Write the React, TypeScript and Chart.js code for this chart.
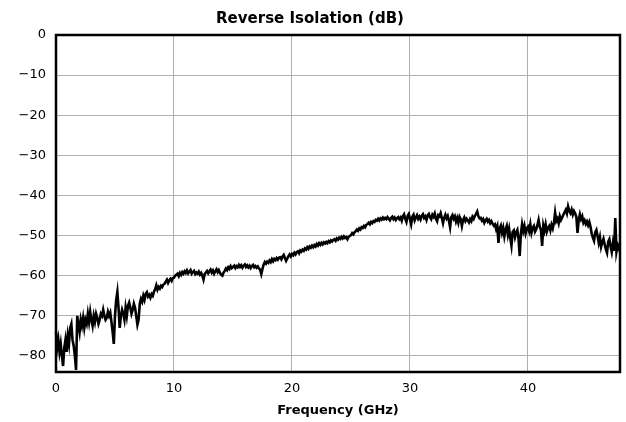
import React, { useEffect, useRef } from "react";
import { Chart, registerables } from "chart.js";

Chart.register(...registerables);

const TITLE = "Reverse Isolation (dB)";
const X_LABEL = "Frequency (GHz)";
const FREQ_START_GHZ = 0;
const FREQ_STEP_GHZ = 0.1;
const X_MIN = 0;
const X_MAX = 47.8;
const Y_MIN = -84;
const Y_MAX = 0;
const X_TICKS = [0, 10, 20, 30, 40];
const Y_TICKS = [0, -10, -20, -30, -40, -50, -60, -70, -80];

// Reverse isolation in dB, one value every 0.1 GHz from 0 GHz
const ISOLATION_DB = [
  -74, -78, -76, -79, -77, -80, -82.5, -78, -76, -79,
  -75, -77, -73, -72, -76, -77.5, -80, -83.5, -70, -72,
  -74, -71, -72.5, -70.5, -73, -71, -72, -69.5, -71.5, -69,
  -71, -72.5, -70, -71.5, -69.5, -70.5, -72, -71, -69.5, -70,
  -68.5, -70, -71, -70.5, -69, -70, -69.2, -71.5, -74, -77,
  -70, -66, -64, -68, -73, -70, -68.5, -69.5, -71, -68,
  -70, -67.5, -66.7, -68, -69.5, -68.5, -67, -68, -70, -72.2,
  -71, -67, -65.8, -66.5, -65, -66, -64.5, -64.1, -65.2, -64.8,
  -65.5, -64.6, -65, -64, -63.4, -62.4, -63.5, -62.8, -63.2, -62.5,
  -62.8, -62.2, -62, -61.5, -61, -61.8, -61.2, -60.8, -61.3, -60.6,
  -60.5, -60, -59.8, -59.5, -60.1, -59.3, -59.8, -59.1, -59.5, -58.9,
  -59.3, -58.7, -59.4, -59, -58.6, -59.5, -59.1, -58.8, -59.6, -59.2,
  -59.5, -59, -59.7, -59.3, -60, -61, -59.6, -59.2, -58.8, -59.4,
  -58.9, -58.5, -59.2, -58.7, -59.5, -58.9, -58.4, -59.1, -58.6, -59.3,
  -59.8, -60, -59.2, -58.8, -58.2, -58.6, -57.9, -58.3, -57.6, -58.1,
  -57.8, -57.5, -58.1, -57.6, -57.9, -57.3, -57.8, -57.4, -58, -57.5,
  -57.2, -57.8, -57.4, -57.9, -57.5, -58.1, -57.6, -57.3, -57.9, -57.6,
  -58, -57.7, -58.2, -58.5, -59.6, -58.3, -57.2, -56.6, -57, -56.5,
  -56.8, -56.2, -56.6, -55.9, -56.4, -55.8, -56.1, -55.6, -56, -55.5,
  -55.4, -55.9, -55.2, -54.8, -55.6, -56.3, -55.7, -55.1, -54.7, -55.2,
  -54.6, -54.9, -54.3, -54.7, -54.1, -53.9, -54.4, -53.7, -54, -53.5,
  -53.8, -53.2, -53.5, -52.9, -53.3, -52.7, -53, -52.5, -52.9, -52.4,
  -52.7, -52.1, -52.5, -51.9, -52.3, -51.8, -52.2, -51.7, -52, -51.6,
  -51.9, -51.4, -51.7, -51.2, -51.5, -51.1, -50.9, -51.3, -50.7, -51,
  -50.5, -50.8, -50.3, -50.7, -50.2, -50.6, -50.4, -50.9, -50.3, -50.1,
  -49.9, -49.4, -49.7, -49.2, -48.9, -48.5, -48.8, -48.2, -48.5, -47.9,
  -48.1, -47.6, -47.9, -47.3, -47.1, -46.8, -47.2, -46.6, -46.9, -46.4,
  -46.6, -46.1, -46.3, -45.8, -46.2, -45.7, -46, -45.5, -45.9, -45.6,
  -45.9, -45.4, -45.8, -46.2, -45.6, -45.3, -45.9, -45.5, -46.1, -45.7,
  -45.4, -45.9, -45.5, -46.3, -45.2, -44.7, -45.8, -46.6, -45.1, -44.6,
  -45.9, -47.2, -45.3, -44.8, -46.2, -45.5, -44.9, -45.8, -45.3, -46,
  -45.1, -44.7, -45.6, -45.2, -46.1, -45, -44.6, -45.4, -45.9, -44.8,
  -45.3, -44.5, -45.8, -46.4, -44.9, -45.2, -44.4, -45.6, -46.9, -45.5,
  -44.8, -45.7, -45.1, -46.3, -47.9, -45.4, -44.9, -45.8, -45.2, -46.5,
  -45.6, -46.8, -45.3, -45.9, -47.6, -46.1, -45.5, -46.4, -45.8, -46.2,
  -46.7, -45.9, -46.4, -45.3, -45.8, -45.1, -44.6, -44, -45.2, -45.7,
  -45.6, -46.3, -45.9, -46.8, -46.2, -45.8, -46.5, -46.1, -46.9, -46.4,
  -47, -47.5, -47.2, -48.4, -47.6, -51.8, -48.2, -47.5, -49.3, -48.1,
  -50.2, -48.5, -47.6, -49.8, -48.3, -50.6, -52.5, -49.1, -48.7, -50.4,
  -49.2, -48.6, -50.8, -55.1, -49.5, -47.2, -48.9, -47.6, -49.4, -48.2,
  -47.8, -48.9, -47.2, -49.3, -48.1, -47.6, -49, -48.4, -47.4, -46.1,
  -47.8, -48.6, -52.6, -47.5, -48.8, -47.2, -49, -48.1, -47.6, -48.7,
  -47.3, -48.2, -46.8, -44.3, -46.4, -45.8, -46.9, -45.2, -46.1, -45.5,
  -44.8, -44.2, -43.6, -44.5, -42.7, -43.8, -44.4, -43.5, -44.8, -43.9,
  -44.5, -45.3, -49.3, -46.1, -44.7, -45.9, -45.2, -46.8, -46.2, -47.1,
  -46.5, -47.4, -46.6, -47.8, -49.5, -50.5, -51.3, -49.2, -48.6, -50.1,
  -51.8, -50.4, -52.8, -51.6, -50.8, -52.2, -53.4, -54.3, -51.5, -50.9,
  -52.7, -54.1, -51.9, -53.8, -45.6, -54, -52.4, -53.2, -51.8,
];

const FONT = "'DejaVu Sans', sans-serif";

const frameBorder = {
  id: "frameBorder",
  afterDatasetsDraw(chart: any) {
    const { ctx, chartArea } = chart;
    ctx.save();
    ctx.strokeStyle = "#000";
    ctx.lineWidth = 2.5;
    ctx.strokeRect(
      chartArea.left,
      chartArea.top,
      chartArea.right - chartArea.left,
      chartArea.bottom - chartArea.top
    );
    ctx.restore();
  },
};

export default function App() {
  const ref = useRef<HTMLCanvasElement>(null);

  useEffect(() => {
    document.body.style.margin = "0";
    const canvas = ref.current;
    if (!canvas) return;
    const points = ISOLATION_DB.map((v, i) => ({
      x: +(FREQ_START_GHZ + i * FREQ_STEP_GHZ).toFixed(2),
      y: v,
    }));
    const chart = new Chart(canvas, {
      type: "line",
      data: {
        datasets: [
          {
            data: points,
            borderColor: "#000",
            borderWidth: 2.6,
            pointRadius: 0,
            tension: 0,
            fill: false,
          },
        ],
      },
      options: {
        animation: false,
        responsive: false,
        clip: false as any,
        layout: { padding: { left: 0, right: 6, top: 0, bottom: 0 } },
        plugins: {
          legend: { display: false },
          tooltip: { enabled: false },
          title: {
            display: true,
            text: TITLE,
            color: "#000",
            font: { family: FONT, size: 15, weight: "bold", lineHeight: 1.2 },
            padding: { top: 10, bottom: 7 },
          },
        },
        scales: {
          x: {
            type: "linear",
            min: X_MIN,
            max: X_MAX,
            afterBuildTicks: (axis: any) => {
              axis.ticks = X_TICKS.map((v) => ({ value: v }));
            },
            afterFit: (axis: any) => {
              axis.height = 50;
            },
            grid: { color: "#b0b0b0", lineWidth: 1, drawTicks: false },
            border: { display: false },
            ticks: {
              color: "#000",
              font: { family: FONT, size: 13 },
              padding: 9,
              maxRotation: 0,
              autoSkip: false,
            },
            title: {
              display: true,
              text: X_LABEL,
              color: "#000",
              font: { family: FONT, size: 13, weight: "bold", lineHeight: 1.2 },
              padding: { top: 0, bottom: 4 },
            },
          },
          y: {
            type: "linear",
            min: Y_MIN,
            max: Y_MAX,
            afterBuildTicks: (axis: any) => {
              axis.ticks = Y_TICKS.map((v) => ({ value: v }));
            },
            afterFit: (axis: any) => {
              axis.width = 56;
            },
            grid: { color: "#b0b0b0", lineWidth: 1, drawTicks: false },
            border: { display: false },
            ticks: {
              color: "#000",
              font: { family: FONT, size: 13 },
              padding: 10,
              autoSkip: false,
              callback: (v: any) => String(v).replace("-", "\u2212"),
            },
          },
        },
      },
      plugins: [frameBorder],
    });
    return () => chart.destroy();
  }, []);

  return <canvas ref={ref} width={626} height={422} style={{ display: "block" }} />;
}
